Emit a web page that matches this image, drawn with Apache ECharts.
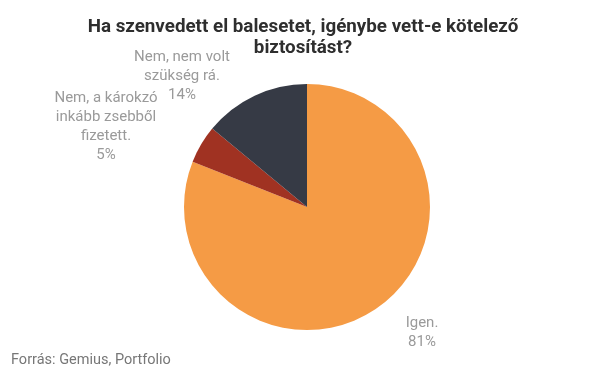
<!DOCTYPE html>
<html>
<head>
<meta charset="utf-8">
<script src="https://cdn.jsdelivr.net/npm/echarts@6/dist/echarts.min.js"></script>
<style>html,body{margin:0;padding:0;background:#fff}#c{width:605px;height:378px}</style>
</head>
<body>
<div id="c"></div>
<script>
var categories = ['Igen.', 'Nem, a károkzó\ninkább zsebből\nfizetett.', 'Nem, nem volt\nszükség rá.'];
var values = [81, 5, 14];
var colors = ['#F59B45', '#A03222', '#363A45'];
var labelCenters = [[422, 333], [106, 127], [182, 76]];

var chart = echarts.init(document.getElementById('c'), null, {renderer: 'canvas'});
chart.setOption({
  animation: false,
  backgroundColor: '#ffffff',
  title: {
    text: 'Ha szenvedett el balesetet, igénybe vett-e kötelező\nbiztosítást?',
    left: 298, top: 12, textAlign: 'center',
    textStyle: {fontFamily: 'Roboto', fontWeight: 'bold', fontSize: 18.8, color: '#2e2e2e', lineHeight: 21}
  },
  graphic: [{
    type: 'text', left: 11, top: 353,
    style: {text: 'Forrás: Gemius, Portfolio', font: '14.5px Roboto', fill: '#777777'}
  }],
  series: [{
    type: 'pie',
    center: [307, 207],
    radius: [0, 123],
    startAngle: 90,
    clockwise: true,
    label: {
      show: true,
      position: 'outside',
      formatter: function (p) { return p.name + '\n' + p.value + '%'; },
      fontFamily: 'Roboto', fontSize: 15, color: '#9a9a9a', lineHeight: 19, align: 'center'
    },
    labelLine: {show: false},
    labelLayout: function (p) {
      var c = labelCenters[p.dataIndex];
      return {x: c[0], y: c[1], align: 'center', verticalAlign: 'middle'};
    },
    itemStyle: {borderWidth: 0},
    data: categories.map(function (n, i) {
      return {name: n, value: values[i], itemStyle: {color: colors[i]}};
    })
  }]
});
</script>
</body>
</html>
